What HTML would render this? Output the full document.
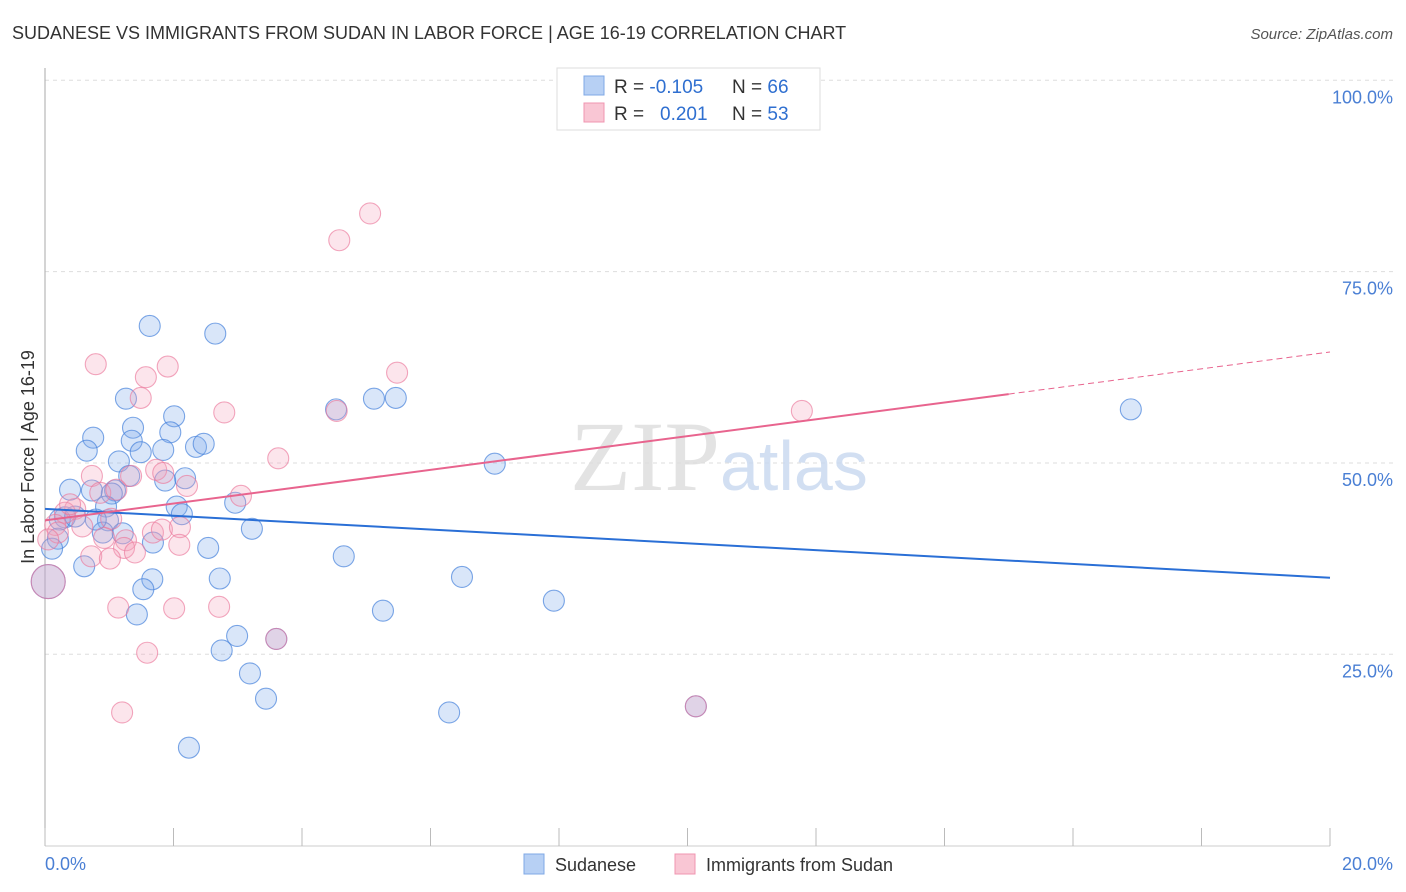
<!DOCTYPE html>
<html><head><meta charset="utf-8"><style>
body{margin:0;background:#fff;font-family:"Liberation Sans",sans-serif}
#c{position:absolute;left:0;top:0}
</style></head><body>
<svg id="c" width="1406" height="892">
<text x="12" y="39" font-size="18" fill="#333">SUDANESE VS IMMIGRANTS FROM SUDAN IN LABOR FORCE | AGE 16-19 CORRELATION CHART</text>
<text x="1393" y="39" font-size="15" fill="#555" font-style="italic" text-anchor="end">Source: ZipAtlas.com</text>
<g id="grid"></g>
<text x="720" y="490" font-size="100" fill="#ddd" text-anchor="end" font-family="Liberation Serif,serif" opacity="0.8">ZIP</text>
<text x="720" y="490" font-size="70" fill="#c8d8f0" opacity="0.8">atlas</text>
<line x1="45" y1="68" x2="45" y2="846" stroke="#aaa"/>
<line x1="45" y1="846" x2="1330" y2="846" stroke="#ccc"/>
<g id="ticks"></g>
<g id="pts"></g>
<g id="lines"></g>
<text transform="translate(34,457) rotate(-90)" font-size="18" fill="#333" text-anchor="middle">In Labor Force | Age 16-19</text>
<text x="45" y="870" font-size="18" fill="#4a7fd4">0.0%</text>
<text x="1393" y="870" font-size="18" fill="#4a7fd4" text-anchor="end">20.0%</text>
<g>
<rect x="557" y="68" width="263" height="62" fill="#fff" stroke="#ddd"/>
<rect x="584" y="76" width="20" height="19" fill="#b7d0f4" stroke="#7fa8e6"/>
<rect x="584" y="103" width="20" height="19" fill="#f9c6d4" stroke="#f095b0"/>
<text x="614" y="93" font-size="19" fill="#333">R = <tspan fill="#2f6fd0">-0.105</tspan><tspan x="732">N = </tspan><tspan fill="#2f6fd0">66</tspan></text>
<text x="614" y="120" font-size="19" fill="#333">R = <tspan x="660" fill="#2f6fd0">0.201</tspan><tspan x="732">N = </tspan><tspan fill="#2f6fd0">53</tspan></text>
</g>
<g>
<rect x="524" y="854" width="20" height="20" fill="#b7d0f4" stroke="#7fa8e6"/>
<text x="555" y="871" font-size="18" fill="#333">Sudanese</text>
<rect x="675" y="854" width="20" height="20" fill="#f9c6d4" stroke="#f095b0"/>
<text x="706" y="871" font-size="18" fill="#333">Immigrants from Sudan</text>
</g>
</svg>
<script>
const yTicks=[25,50,75,100];
const yTickLabels=["25.0%","50.0%","75.0%","100.0%"];
const xTicks=[0,2,4,6,8,10,12,14,16,18,20];
const blueX=[1.63,2.65,1.26,2.01,1.37,1.95,0.75,1.35,0.65,1.49,1.84,2.35,2.47,1.15,1.31,2.18,1.87,0.39,0.73,1.09,1.04,2.05,0.95,2.13,2.96,0.31,0.98,0.23,3.22,0.90,1.21,1.68,2.54,0.20,0.11,0.61,1.67,2.72,1.53,1.43,2.99,2.75,3.19,3.44,2.24,4.53,5.12,5.46,7.00,4.65,6.49,5.26,7.92,6.29,10.13,16.90,0.47,0.79,3.60,0.05];
const blueY=[67.9,66.9,58.4,56.1,54.6,54.0,53.3,52.9,51.6,51.4,51.7,52.1,52.5,50.2,48.3,48.0,47.7,46.5,46.4,46.4,46.0,44.3,44.3,43.3,44.8,42.9,42.5,42.6,41.4,40.9,40.8,39.6,38.9,40.1,38.8,36.5,34.8,34.9,33.5,30.2,27.4,25.5,22.5,19.2,12.8,57.0,58.4,58.5,49.9,37.8,35.1,30.7,32.0,17.4,18.2,57.0,43.0,42.6,27.0,34.5];
const pinkX=[5.06,4.58,0.79,1.91,1.57,5.48,1.49,2.79,4.54,11.78,3.63,0.73,1.34,1.73,1.84,2.21,3.05,0.86,1.11,0.47,0.31,0.16,0.58,1.03,0.20,0.92,1.26,1.23,1.68,1.82,2.10,2.09,1.40,0.72,1.01,1.14,2.01,2.71,3.60,1.59,1.20,10.13,0.05,0.39,0.05];
const pinkY=[82.6,79.1,62.9,62.6,61.2,61.8,58.5,56.6,56.8,56.8,50.6,48.3,48.3,49.1,48.7,47.0,45.7,46.1,46.5,44.0,43.5,41.9,41.7,42.7,40.9,40.2,39.9,38.9,40.9,41.3,41.6,39.3,38.3,37.8,37.5,31.1,31.0,31.2,27.0,25.2,17.4,18.2,40.0,44.6,34.5];
const blueTrend=[44.0,35.0];
const pinkTrend=[42.5,64.5];
const pinkSolidEnd=15.0;
const NS="http://www.w3.org/2000/svg";
const X=v=>45+v*64.25, Y=v=>845.6-v*7.653;
function mk(t,a,p){const e=document.createElementNS(NS,t);for(const k in a)e.setAttribute(k,a[k]);p.appendChild(e);return e;}
const grid=document.getElementById('grid');
yTicks.forEach((t,i)=>{
 const l=mk('line',{x1:45,x2:1393,y1:Y(t),y2:Y(t),stroke:'#ddd','stroke-dasharray':'4,4'},grid);
 
 
 const tx=mk('text',{x:1393,y:Y(t)+23,'font-size':18,fill:'#4a7fd4','text-anchor':'end'},grid);
 tx.textContent=yTickLabels[i];
 
 
});
const ticks=document.getElementById('ticks');
xTicks.forEach(t=>{
 const l=mk('line',{x1:X(t),x2:X(t),y1:828,y2:846,stroke:'#bbb'},ticks);
 
 
});
const pts=document.getElementById('pts');
function dots(xs,ys,fill,stroke,name){
 xs.forEach((x,i)=>{
  const big=(x<0.1&&Math.abs(ys[i]-34.5)<0.5);
  const c=mk('circle',{cx:X(x),cy:Y(ys[i]),r:big?17:10.5,fill:fill,stroke:stroke,'stroke-width':1.1},pts);
  
  
 });
}
dots(blueX,blueY,'rgba(130,172,235,0.3)','rgba(70,130,220,0.7)','sudanese-point');
dots(pinkX,pinkY,'rgba(245,160,188,0.28)','rgba(235,120,155,0.65)','immigrants-point');
const lines=document.getElementById('lines');
const bl=mk('line',{x1:X(0),y1:Y(blueTrend[0]),x2:X(20),y2:Y(blueTrend[1]),stroke:'#2a6fd6','stroke-width':2},lines);


const pv=x=>pinkTrend[0]+(pinkTrend[1]-pinkTrend[0])*x/20;
const pl=mk('line',{x1:X(0),y1:Y(pv(0)),x2:X(pinkSolidEnd),y2:Y(pv(pinkSolidEnd)),stroke:'#e8648e','stroke-width':2},lines);


const pd=mk('line',{x1:X(pinkSolidEnd),y1:Y(pv(pinkSolidEnd)),x2:X(20),y2:Y(pv(20)),stroke:'#e8648e','stroke-width':1,'stroke-dasharray':'6,4'},lines);


</script>
</body></html>
